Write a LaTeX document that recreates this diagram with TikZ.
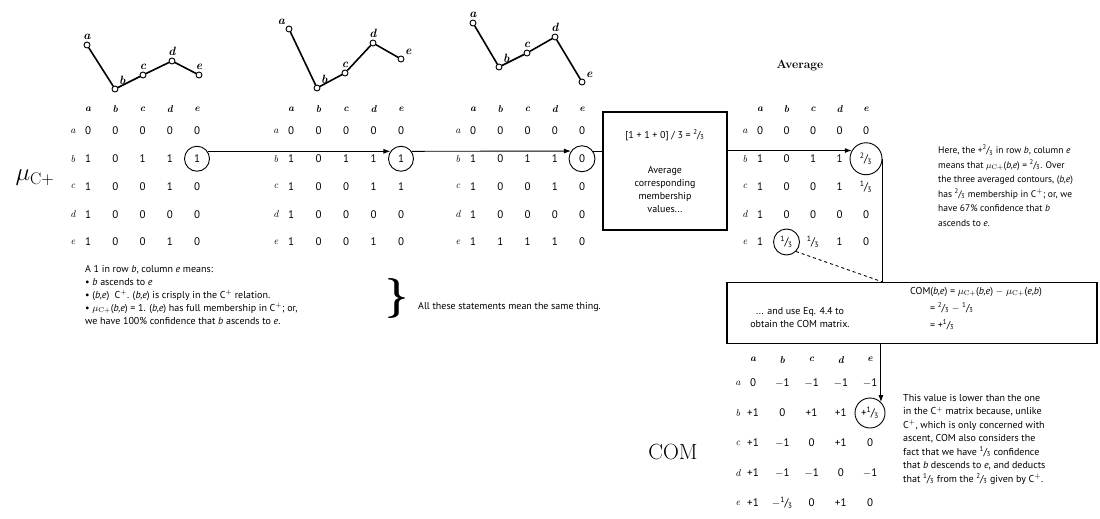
\documentclass[tikz,border=0pt]{standalone}
\usepackage{fontspec}
\setsansfont{PT Sans}
\usetikzlibrary{arrows.meta,positioning,calc}

\newcommand{\frc}[2]{\textsuperscript{#1}\kern-0.5pt/\kern-0.5pt\textsubscript{#2}}
\newcommand{\muC}{$\mu_{\mathrm{C+}}$}

\tikzstyle{dot}        =[draw,circle,fill=white,minimum size=6pt,inner sep=0pt,line width=0.9pt]
\tikzstyle{contLabel}  =[font=\fontsize{12}{12}\selectfont\rmfamily\bfseries\itshape,inner sep=1.5pt]
\tikzstyle{contourLine}=[line width=1.6pt]
\tikzstyle{matEntry}   =[font=\fontsize{11}{11}\selectfont\sffamily,inner sep=0pt]
\tikzstyle{colLabel}   =[font=\fontsize{10}{10}\selectfont\rmfamily\bfseries\itshape,inner sep=0pt]
\tikzstyle{rowLabel}   =[font=\fontsize{10}{10}\selectfont\rmfamily\itshape,inner sep=0pt]
\tikzstyle{ring}       =[draw,circle,inner sep=0pt,line width=0.9pt]
\tikzstyle{frameBox}   =[draw,rectangle,line width=1.2pt,inner sep=0pt]
\tikzstyle{note}       =[font=\fontsize{10}{13}\selectfont\sffamily,align=left,inner sep=0pt,anchor=north west]
\tikzstyle{flowLine}   =[line width=0.9pt]

% one relation matrix: name, x of column a, y of row a, column step, row step, rows
\newcommand{\relMatrix}[6]{%
  \foreach \lbl [count=\j] in {a,b,c,d,e} {
    \node[colLabel] (#1-h\j) at ({#2+(\j-1)*#4},{#3-0.78*#5}) {\lbl};
    \node[rowLabel] (#1-r\j) at ({#2-15},{#3+(\j-1)*#5}) {\lbl};
  }
  \foreach \row [count=\i] in {#6} {
    \foreach \val [count=\j] in \row {
      \node[matEntry] (#1-\i-\j) at ({#2+(\j-1)*#4},{#3+(\i-1)*#5}) {\val};
    }
  }%
}

\begin{document}
\begin{tikzpicture}[x=1pt,y=-1pt,>={Latex[length=7pt,width=5pt]}]
\useasboundingbox (0,0) rectangle (1100,519);

% the three contours
\node[dot,label={[contLabel]above:a}]       (c1a) at (87,45) {};
\node[dot,label={[contLabel]above right:b}] (c1b) at (115,89) {};
\node[dot,label={[contLabel]above:c}]       (c1c) at (143,75) {};
\node[dot,label={[contLabel]above:d}]       (c1d) at (172,61) {};
\node[dot,label={[contLabel]above:e}]       (c1e) at (199,75) {};
\draw[contourLine] (c1a) -- (c1b) -- (c1c) -- (c1d) -- (c1e);

\node[dot,label={[contLabel]above left:a}]  (c2a) at (289,29) {};
\node[dot,label={[contLabel]above right:b}] (c2b) at (317,88) {};
\node[dot,label={[contLabel]above:c}]       (c2c) at (345,73) {};
\node[dot,label={[contLabel]above:d}]       (c2d) at (373,43) {};
\node[dot,label={[contLabel]above right:e}] (c2e) at (401,59) {};
\draw[contourLine] (c2a) -- (c2b) -- (c2c) -- (c2d) -- (c2e);

\node[dot,label={[contLabel]above:a}]       (c3a) at (473,23) {};
\node[dot,label={[contLabel]above right:b}] (c3b) at (499,67) {};
\node[dot,label={[contLabel]above:c}]       (c3c) at (527,53) {};
\node[dot,label={[contLabel]above:d}]       (c3d) at (555,37) {};
\node[dot,label={[contLabel]above right:e}] (c3e) at (582,82) {};
\draw[contourLine] (c3a) -- (c3b) -- (c3c) -- (c3d) -- (c3e);

% matrices
\relMatrix{m1}{88}{131}{27.25}{27.75}{{0,0,0,0,0},{1,0,1,1,1},{1,0,0,1,0},{1,0,0,0,0},{1,0,0,1,0}}
\relMatrix{m2}{291}{131}{27.5}{27.75}{{0,0,0,0,0},{1,0,1,1,1},{1,0,0,1,1},{1,0,0,0,0},{1,0,0,1,0}}
\relMatrix{m3}{473}{131}{27.25}{27.75}{{0,0,0,0,0},{1,0,1,1,0},{1,0,0,1,0},{1,0,0,0,0},{1,1,1,1,0}}
\relMatrix{avg}{760}{131}{26.5}{27.75}{{0,0,0,0,0},{1,0,1,1,\frc{2}{3}},{1,0,0,1,\frc{1}{3}},{1,0,0,0,0},{1,\frc{1}{3},\frc{1}{3},1,0}}
\relMatrix{com}{753}{383}{29.25}{30}{{0,$-$1,$-$1,$-$1,$-$1},{+1,0,+1,+1,+\frc{1}{3}},{+1,$-$1,0,+1,0},{+1,$-$1,$-$1,0,$-$1},{+1,$-$\frc{1}{3},0,+1,0}}

\node[font=\fontsize{24}{24}\selectfont] (muLbl) at (35,178) {\muC};
\node[font=\fontsize{22}{22}\selectfont] (comLbl) at (673,452) {COM};
\node[font=\fontsize{12}{12}\selectfont\bfseries] (avgLbl) at (800,66) {Average};

% circled entries
\node[ring,minimum size=25pt] (r1) at (m1-2-5) {};
\node[ring,minimum size=25pt] (r2) at (m2-2-5) {};
\node[ring,minimum size=26pt] (r3) at (m3-2-5) {};
\node[ring,minimum size=32pt] (ra) at (avg-2-5) {};
\node[ring,minimum size=26pt] (rb) at (avg-5-2) {};
\node[ring,minimum size=30pt] (rc) at (com-2-5) {};

% boxes
\node[frameBox,minimum width=124pt,minimum height=118pt,align=center,
      font=\fontsize{10}{13}\selectfont\sffamily] (avgBox) at (665,171)
  {[1 + 1 + 0] / 3 = \frc{2}{3}\\[22pt]Average\\corresponding\\membership\\values...};
\node[frameBox,minimum width=370pt,minimum height=61pt] (comBox) at (912,313) {};
\node[font=\fontsize{10}{13}\selectfont\sffamily,align=center] (comTxt) at (800,318)
  {... and use Eq. 4.4 to\\obtain the COM matrix.};
\node[note,font=\fontsize{10}{17}\selectfont\sffamily] (comEq) at (910,287)
  {COM(\textit{b,e}) = \muC(\textit{b,e}) $-$ \muC(\textit{e,b})\\
   \hspace*{20pt}= \frc{2}{3} $-$ \frc{1}{3}\\
   \hspace*{20pt}= +\frc{1}{3}};

% flow of the circled entries
\draw[flowLine,->] (r1.35) -- (r2.145);
\draw[flowLine,->] (r2.35) -- (r3.145);
\draw[flowLine] (r3.35) -- (r3.35 -| avgBox.west);
\draw[flowLine,->] (ra.150 -| avgBox.east) -- (ra.150);
\draw[flowLine] (ra.east) -- (ra.east |- comBox.north);
\draw[flowLine,->] (rc.north east |- comBox.south) -- (rc.north east);
\draw[flowLine,dashed] (rb.south east) -- (ra.east |- comBox.north);

% explanations
\node[note] (leftNote) at (85,265)
  {A 1 in row \textit{b}, column \textit{e} means:\\
   \textbullet\ \textit{b} ascends to \textit{e}\\
   \textbullet\ (\textit{b,e})\ \ C$^+$. (\textit{b,e}) is crisply in the C$^+$ relation.\\
   \textbullet\ \muC(\textit{b,e}) = 1. (\textit{b,e}) has full membership in C$^+$; or,\\
   we have 100\% confidence that \textit{b} ascends to \textit{e}.};
\node[font=\fontsize{40}{40}\selectfont\bfseries] (brace) at (397,298) {\}};
\node[note,anchor=west] (sameNote) at (418,307) {All these statements mean the same thing.};
\node[note,font=\fontsize{9.5}{14.5}\selectfont\sffamily] (avgNote) at (938,145)
  {Here, the +\frc{2}{3} in row \textit{b}, column \textit{e}\\
   means that \muC(\textit{b,e}) = \frc{2}{3}. Over\\
   the three averaged contours, (\textit{b,e})\\
   has \frc{2}{3} membership in C$^+$; or, we\\
   have 67\% confidence that \textit{b}\\
   ascends to \textit{e}.};
\node[note,font=\fontsize{10}{13.5}\selectfont\sffamily] (comNote) at (903,394)
  {This value is lower than the one\\
   in the C$^+$ matrix because, unlike\\
   C$^+$, which is only concerned with\\
   ascent, COM also considers the\\
   fact that we have \frc{1}{3} confidence\\
   that \textit{b} descends to \textit{e}, and deducts\\
   that \frc{1}{3} from the \frc{2}{3} given by C$^+$.};
\end{tikzpicture}
\end{document}
